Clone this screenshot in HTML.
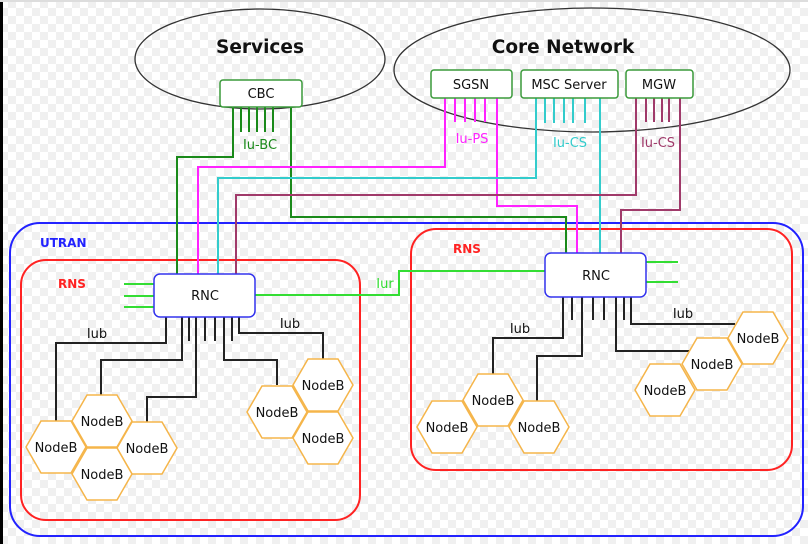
<!DOCTYPE html>
<html><head><meta charset="utf-8"><style>
html,body{margin:0;padding:0;}
body{width:808px;height:544px;overflow:hidden;background-color:#fff;background-image:repeating-conic-gradient(#f0f0f0 0 25%,#fff 0 50%);background-size:16px 16px;}
svg{position:absolute;left:0;top:0;}
text{font-family:"DejaVu Sans","Liberation Sans",sans-serif;}
</style></head><body>
<svg width="808" height="544" viewBox="0 0 808 544" xmlns="http://www.w3.org/2000/svg">
<rect x="0" y="0" width="3" height="544" fill="#000"/>
<rect x="0" y="0" width="808" height="2" fill="#ddd"/>
<ellipse cx="260" cy="59" rx="125" ry="50" fill="none" stroke="#333" stroke-width="1.3"/>
<ellipse cx="592" cy="70" rx="198" ry="62" fill="none" stroke="#333" stroke-width="1.3"/>
<text x="260" y="53" font-size="18.5" font-weight="bold" text-anchor="middle" fill="#111">Services</text>
<text x="563" y="53" font-size="18.5" font-weight="bold" text-anchor="middle" fill="#111">Core Network</text>
<rect x="10" y="223" width="793" height="313" rx="30" fill="none" stroke="#2222ff" stroke-width="2"/>
<rect x="21" y="260" width="339" height="260" rx="25" fill="none" stroke="#ff2222" stroke-width="2"/>
<rect x="411" y="229" width="381" height="241" rx="25" fill="none" stroke="#ff2222" stroke-width="2"/>
<text x="40" y="247" font-size="12" font-weight="bold" fill="#2222ff">UTRAN</text>
<text x="58" y="288" font-size="12" font-weight="bold" fill="#ff2222">RNS</text>
<text x="453" y="253" font-size="12" font-weight="bold" fill="#ff2222">RNS</text>
<g fill="none" stroke-width="2">
<g stroke="#1a8a1a">
<path d="M233 107V157H177V274"/>
<path d="M241 107V132M249 107V132M257 107V132M265 107V132M273 107V132"/>
<path d="M291 107V217H566V253"/>
</g>
<g stroke="#ff22ff">
<path d="M445 98V167H198V274"/>
<path d="M455 98V122M465 98V122M475 98V122M485 98V122"/>
<path d="M497 98V206H577V253"/>
</g>
<g stroke="#33cccc">
<path d="M536 98V178H218V274"/>
<path d="M545 98V123M554 98V123M564 98V123M573 98V123M585 98V123"/>
<path d="M600 98V253"/>
</g>
<g stroke="#a03a6a">
<path d="M636 98V195H236V274"/>
<path d="M646 98V122M654 98V122M662 98V122M669 98V122"/>
<path d="M680 98V210H621V253"/>
</g>
<g stroke="#33dd33">
<path d="M255 295H399V271H545"/>
<path d="M124 284H154M124 296H154M124 307H154"/>
<path d="M646 262H678M646 282H678"/>
</g>
<g stroke="#222">
<path d="M166 317V343H56V421"/>
<path d="M182 317V360H101V395"/>
<path d="M196 317V397H147V422"/>
<path d="M189 317V341M205 317V341M215 317V341M232 317V341"/>
<path d="M224 317V360H277V385"/>
<path d="M239 317V333H323V359"/>
<path d="M563 297V338H493V374"/>
<path d="M582 297V356H537V401"/>
<path d="M572 297V320M593 297V320M604 297V320M624 297V320"/>
<path d="M616 297V351H689V352"/>
<path d="M631 297V324H735"/>
</g>
</g>
<g font-size="13" text-anchor="middle" fill="#111">
<rect x="220" y="80" width="82" height="27" rx="3" fill="#fff" stroke="#3a9a3a" stroke-width="1.5"/>
<text x="261" y="98">CBC</text>
<rect x="431" y="70" width="81" height="28" rx="3" fill="#fff" stroke="#3a9a3a" stroke-width="1.5"/>
<text x="471" y="89">SGSN</text>
<rect x="521" y="70" width="97" height="28" rx="3" fill="#fff" stroke="#3a9a3a" stroke-width="1.5"/>
<text x="569" y="89">MSC Server</text>
<rect x="626" y="70" width="67" height="28" rx="3" fill="#fff" stroke="#3a9a3a" stroke-width="1.5"/>
<text x="659" y="89">MGW</text>
<rect x="154" y="274" width="101" height="43" rx="6" fill="#fff" stroke="#3333ee" stroke-width="1.5"/>
<text x="205" y="300">RNC</text>
<rect x="545" y="253" width="101" height="44" rx="6" fill="#fff" stroke="#3333ee" stroke-width="1.5"/>
<text x="596" y="280">RNC</text>
</g>
<g font-size="13">
<text x="260" y="149" text-anchor="middle" fill="#1a8a1a">Iu-BC</text>
<text x="472" y="143" text-anchor="middle" fill="#ff22ff">Iu-PS</text>
<text x="570" y="147" text-anchor="middle" fill="#33cccc">Iu-CS</text>
<text x="658" y="147" text-anchor="middle" fill="#a03a6a">Iu-CS</text>
<text x="385" y="288" text-anchor="middle" fill="#33dd33">Iur</text>
<text x="97" y="338" text-anchor="middle" fill="#111">Iub</text>
<text x="290" y="328" text-anchor="middle" fill="#111">Iub</text>
<text x="520" y="333" text-anchor="middle" fill="#111">Iub</text>
<text x="683" y="318" text-anchor="middle" fill="#111">Iub</text>
</g>
<g font-size="13" text-anchor="middle" fill="#111">
<g transform="translate(56,447)"><polygon points="-30,0 -15,-26 15,-26 30,0 15,26 -15,26" fill="#fff" stroke="#f5b54a" stroke-width="1.5"/><text y="5">NodeB</text></g>
<g transform="translate(102,421)"><polygon points="-30,0 -15,-26 15,-26 30,0 15,26 -15,26" fill="#fff" stroke="#f5b54a" stroke-width="1.5"/><text y="5">NodeB</text></g>
<g transform="translate(147,448)"><polygon points="-30,0 -15,-26 15,-26 30,0 15,26 -15,26" fill="#fff" stroke="#f5b54a" stroke-width="1.5"/><text y="5">NodeB</text></g>
<g transform="translate(102,474)"><polygon points="-30,0 -15,-26 15,-26 30,0 15,26 -15,26" fill="#fff" stroke="#f5b54a" stroke-width="1.5"/><text y="5">NodeB</text></g>
<g transform="translate(277,412)"><polygon points="-30,0 -15,-26 15,-26 30,0 15,26 -15,26" fill="#fff" stroke="#f5b54a" stroke-width="1.5"/><text y="5">NodeB</text></g>
<g transform="translate(323,385)"><polygon points="-30,0 -15,-26 15,-26 30,0 15,26 -15,26" fill="#fff" stroke="#f5b54a" stroke-width="1.5"/><text y="5">NodeB</text></g>
<g transform="translate(323,438)"><polygon points="-30,0 -15,-26 15,-26 30,0 15,26 -15,26" fill="#fff" stroke="#f5b54a" stroke-width="1.5"/><text y="5">NodeB</text></g>
<g transform="translate(493,400)"><polygon points="-30,0 -15,-26 15,-26 30,0 15,26 -15,26" fill="#fff" stroke="#f5b54a" stroke-width="1.5"/><text y="5">NodeB</text></g>
<g transform="translate(447,427)"><polygon points="-30,0 -15,-26 15,-26 30,0 15,26 -15,26" fill="#fff" stroke="#f5b54a" stroke-width="1.5"/><text y="5">NodeB</text></g>
<g transform="translate(539,427)"><polygon points="-30,0 -15,-26 15,-26 30,0 15,26 -15,26" fill="#fff" stroke="#f5b54a" stroke-width="1.5"/><text y="5">NodeB</text></g>
<g transform="translate(758,338)"><polygon points="-30,0 -15,-26 15,-26 30,0 15,26 -15,26" fill="#fff" stroke="#f5b54a" stroke-width="1.5"/><text y="5">NodeB</text></g>
<g transform="translate(712,364)"><polygon points="-30,0 -15,-26 15,-26 30,0 15,26 -15,26" fill="#fff" stroke="#f5b54a" stroke-width="1.5"/><text y="5">NodeB</text></g>
<g transform="translate(665,390)"><polygon points="-30,0 -15,-26 15,-26 30,0 15,26 -15,26" fill="#fff" stroke="#f5b54a" stroke-width="1.5"/><text y="5">NodeB</text></g>
</g>
</svg>
</body></html>
